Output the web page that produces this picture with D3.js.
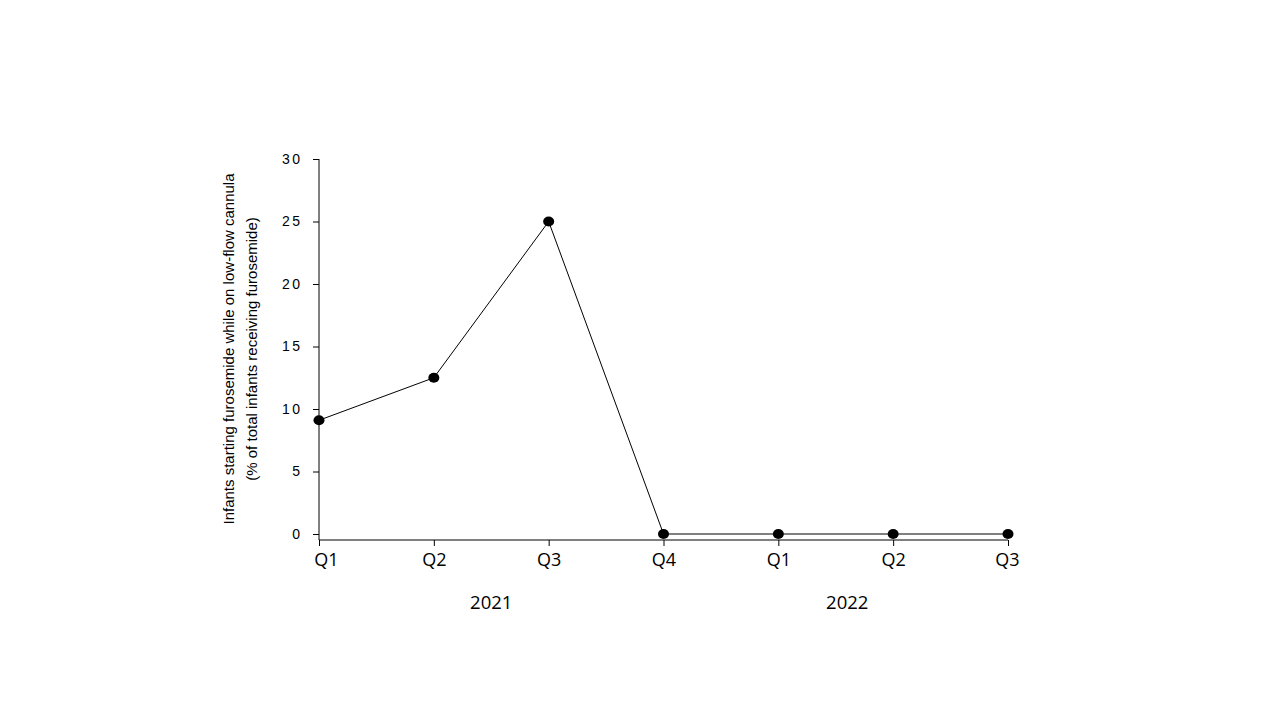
<!DOCTYPE html>
<html>
<head>
<meta charset="utf-8">
<script src="https://cdn.jsdelivr.net/npm/d3@7"></script>
<style>
html,body{margin:0;padding:0;background:#fff;}
svg{display:block;}
</style>
</head>
<body>
<svg id="chart" width="1280" height="720"></svg>
<script>
const quarters = ["Q1","Q2","Q3","Q4","Q1","Q2","Q3"];
const values = [9.1, 12.5, 25, 0, 0, 0, 0];
const yTicks = [0, 5, 10, 15, 20, 25, 30];
const years = [{label:"2021", pos:1.5}, {label:"2022", pos:4.6}];
const yTitle = ["Infants starting furosemide while on low-flow cannula", "(% of total infants receiving furosemide)"];

const svg = d3.select("#chart");
const x = d3.scaleLinear().domain([0, quarters.length-1]).range([319, 1008]);
const y = d3.scaleLinear().domain([0, 30]).range([534, 159]);
const axisY = 540;

// y axis
const ya = svg.append("g").attr("transform","translate(319,0)")
  .call(d3.axisLeft(y).tickValues(yTicks).tickSize(6).tickPadding(13).tickFormat(d3.format("d")));
ya.attr("font-size", null).attr("font-family", null);
ya.select(".domain").attr("d", `M0,${y(30)}V${axisY}`).attr("stroke","#000");
ya.selectAll(".tick line").attr("stroke","#000");
ya.selectAll(".tick text")
  .style("font-family","'Liberation Sans', Arial, sans-serif")
  .style("font-size","14px").attr("fill","#000").style("letter-spacing","2.5px").attr("dx","2.5");

// x axis
const xa = svg.append("g").attr("transform",`translate(0,${axisY})`)
  .call(d3.axisBottom(x).tickValues(d3.range(quarters.length)).tickSize(6).tickPadding(7).tickFormat(i => quarters[i]));
xa.attr("font-size", null).attr("font-family", null);
xa.select(".domain").attr("d", `M${x(0)},0H${x(quarters.length-1)}`).attr("stroke","#000");
xa.selectAll(".tick line").attr("stroke","#000");
xa.selectAll(".tick text")
  .style("font-family","'Open Sans', sans-serif")
  .style("font-size","18px").attr("fill","#000")
  .attr("dx", (d,i) => i === 0 ? 7 : (i === quarters.length-1 ? -1 : 0));

// year labels
svg.selectAll(".year").data(years).enter().append("text")
  .attr("x", d => x(d.pos)).attr("y", 609)
  .attr("text-anchor","middle")
  .style("font-family","'Open Sans', sans-serif")
  .style("font-size","18.5px").attr("fill","#000")
  .text(d => d.label);

// y title
const t = svg.append("text")
  .attr("transform","translate(234,349) rotate(-90)")
  .attr("text-anchor","middle")
  .style("font-family","'Liberation Sans', Arial, sans-serif")
  .style("font-size","15px").attr("fill","#000");
yTitle.forEach((s,i) => t.append("tspan").attr("x",0).attr("dy", i===0 ? 0 : 23).text(s));

// line
const line = d3.line().x((d,i) => x(i)).y(d => y(d));
svg.append("path").datum(values).attr("d", line)
  .attr("fill","none").attr("stroke","#000").attr("stroke-width",1);

// markers
svg.selectAll(".pt").data(values).enter().append("ellipse")
  .attr("cx",(d,i) => x(i)).attr("cy", d => y(d))
  .attr("rx",5.5).attr("ry",5).attr("fill","#000");
</script>
</body>
</html>
